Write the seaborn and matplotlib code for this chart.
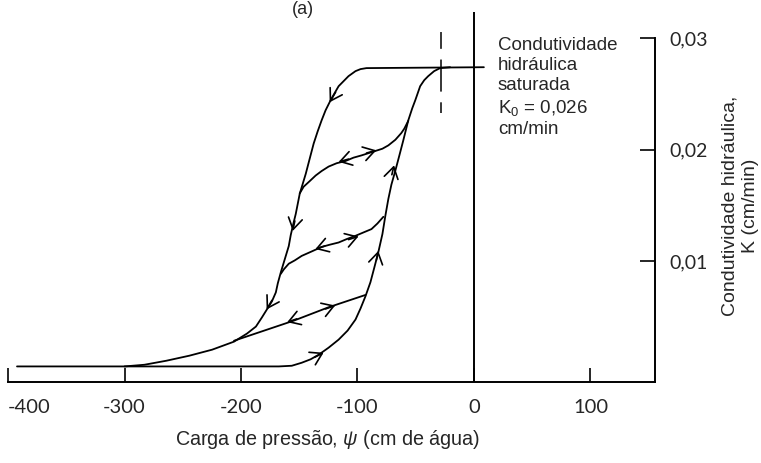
import pandas as pd
import matplotlib.pyplot as plt
import seaborn as sns

sns.set_style('white')
plt.rcParams['font.family'] = ['Liberation Sans', 'DejaVu Sans']
plt.rcParams['mathtext.fontset'] = 'custom'
plt.rcParams['mathtext.rm'] = 'Liberation Sans'
plt.rcParams['mathtext.it'] = 'Liberation Sans:italic'
plt.rcParams['axes.unicode_minus'] = False

# pressure head psi (cm de agua) and conductivity K (cm/min)
drying_psi = [8.5, -92.3, -97.4, -101.7, -107.7, -112.8, -116.2, -119.7, -123.1, -127.4, -130.8,
              -134.2, -137.6, -141.0, -144.4, -147.0, -149.6, -151.3, -153.0, -154.7, -157.3,
              -159.0, -162.4, -165.8, -168.4, -170.1, -173.5, -177.8, -182.1, -187.2, -194.9,
              -206.0, -215.4, -224.8, -244.4, -264.1, -282.9, -300.0]
drying_k = [0.0274, 0.02732, 0.02723, 0.02705, 0.0266, 0.02606, 0.0257, 0.02507, 0.02444, 0.02354, 0.02264,
            0.02165, 0.02057, 0.01922, 0.01786, 0.01696, 0.01606, 0.01516, 0.01426, 0.01354, 0.01237,
            0.01138, 0.01021, 0.00904, 0.00805, 0.00723, 0.00642, 0.0057, 0.00498, 0.00417, 0.00354,
            0.00282, 0.00246, 0.0021, 0.00156, 0.00111, 0.00075, 0.0006]

wetting_psi = [-392.3, -167.5, -156.4, -147.9, -140.2, -133.3, -124.8, -116.2, -108.5, -101.7,
               -97.4, -93.2, -88.9, -85.5, -82.1, -78.6, -76.1, -73.5, -70.9, -67.5, -64.1,
               -60.7, -56.4, -53.0, -50.4, -46.2, -42.7, -39.3, -34.2, -29.1, -20.5]
wetting_k = [0.0006, 0.0006, 0.00066, 0.00093, 0.00124, 0.00165, 0.00228, 0.003, 0.00381, 0.0048,
             0.00579, 0.00687, 0.00814, 0.00948, 0.01084, 0.01246, 0.01408, 0.01561, 0.01688, 0.01814, 0.01948,
             0.02084, 0.02264, 0.02372, 0.02444, 0.0257, 0.02624, 0.0266, 0.02705, 0.02732, 0.0274]

scan1_psi = [-56.4, -59.8, -62.4, -67.5, -73.5, -78.6, -84.6, -90.6, -96.6, -103.4, -110.3,
             -117.9, -124.8, -130.8, -135.9, -141.0, -146.2, -149.6]
scan1_k = [0.0226, 0.0219, 0.0215, 0.0209, 0.0204, 0.0201, 0.0199, 0.0197, 0.0195, 0.0193, 0.0190,
           0.0188, 0.0185, 0.0181, 0.0177, 0.0172, 0.0167, 0.0161]

scan2_psi = [-77.8, -82.9, -88.0, -94.9, -101.7, -109.4, -116.2, -123.9, -130.8, -139.3, -147.9,
             -153.8, -159.0, -163.2, -165.8]
scan2_k = [0.0140, 0.0134, 0.0129, 0.0126, 0.0123, 0.0120, 0.0117, 0.0115, 0.0113, 0.0109, 0.0105,
           0.0101, 0.0098, 0.0093, 0.0089]

scan3_psi = [-93.2, -124.8, -154.7, -206.0]
scan3_k = [0.0070, 0.0059, 0.0047, 0.0029]

# arrowheads: (tail psi, tail K, tip psi, tip K)
arrows = [
    (-118.8, 0.02516, -123.9, 0.02426),
    (-153.8, 0.01363, -155.6, 0.01273),
    (-173.5, 0.00651, -178.0, 0.00570),
    (-70.5, 0.01777, -68.6, 0.01861),
    (-83.8, 0.01012, -82.1, 0.01095),
    (-136.8, 0.00142, -129.1, 0.00183),
    (-92.3, 0.01971, -83.8, 0.01996),
    (-107.7, 0.01917, -116.2, 0.01892),
    (-107.7, 0.01196, -99.1, 0.01225),
    (-128.2, 0.01138, -136.2, 0.01111),
    (-127.4, 0.00575, -119.1, 0.00606),
    (-152.1, 0.00486, -160.4, 0.00456),
]

x_ticks = [-400, -300, -200, -100, 0, 100]
x_tick_labels = ['-400', '-300', '-200', '-100', '0', '100']
y_ticks = [0.01, 0.02, 0.03]
y_tick_labels = ['0,01', '0,02', '0,03']

k_sat_marker = -28       # dashed marker near saturation
x_axis_k = -0.0008       # level of the psi axis
k_axis_psi = 155.4       # position of the K axis

curves = []
for name, xs, ys in [('drying', drying_psi, drying_k), ('wetting', wetting_psi, wetting_k),
                     ('scan1', scan1_psi, scan1_k), ('scan2', scan2_psi, scan2_k),
                     ('scan3', scan3_psi, scan3_k)]:
    curves.append(pd.DataFrame({'curve': name, 'psi': xs, 'K': ys}))
df = pd.concat(curves, ignore_index=True)

fig = plt.figure(figsize=(7.61, 4.63), dpi=100)
ax = fig.add_axes([0, 0, 1, 1])

sns.lineplot(data=df, x='psi', y='K', units='curve', estimator=None, sort=False,
             color='black', lw=1.3, ax=ax)

for x0, y0, x1, y1 in arrows:
    ax.annotate('', xy=(x1, y1), xytext=(x0, y0),
                arrowprops=dict(arrowstyle='->,head_length=0.45,head_width=0.28',
                                lw=1.2, color='black', shrinkA=0, shrinkB=0,
                                mutation_scale=18))

ax.vlines(0, x_axis_k, 0.03234, color='black', lw=1.4)
ax.vlines(k_sat_marker, 0.0233, 0.03064, color='black', lw=1.1,
          linestyles=[(0, (7, 7, 21, 7, 11, 20))])

ax.set_xlim(-406.9, 246.4)
ax.set_ylim(-0.00805, 0.03342)
ax.set_xlabel('')
ax.set_ylabel('')

for side in ['left', 'top']:
    ax.spines[side].set_visible(False)
ax.spines['bottom'].set_position(('data', x_axis_k))
ax.spines['bottom'].set_bounds(-400, k_axis_psi)
ax.spines['right'].set_position(('data', k_axis_psi))
ax.spines['right'].set_bounds(x_axis_k, 0.03)
for side in ['bottom', 'right']:
    ax.spines[side].set_linewidth(1.4)
    ax.spines[side].set_color('black')

ax.xaxis.set_ticks_position('bottom')
ax.yaxis.set_ticks_position('right')
ax.set_xticks(x_ticks)
ax.set_xticklabels(x_tick_labels)
ax.set_yticks(y_ticks)
ax.set_yticklabels(y_tick_labels)
ax.tick_params(axis='x', direction='in', length=10, width=1.4, pad=12, labelsize=14.5)
ax.tick_params(axis='y', direction='in', length=11, width=1.4, pad=10, labelsize=14)
for lab in ax.get_xticklabels() + ax.get_yticklabels():
    lab.set_fontfamily('Lato')
ax.get_xticklabels()[0].set_ha('left')

ax.text(0.6544, 0.9201, 'Condutividade\nhidráulica\nsaturada\nK$_0$ = 0,026\ncm/min',
        transform=ax.transAxes, ha='left', va='top', fontsize=13.5, linespacing=1.25)
ax.text(0.4297, 0.0497, r'Carga de pressão, $\psi$ (cm de água)',
        transform=ax.transAxes, ha='center', va='center', fontsize=14.2)
ax.text(0.9724, 0.555, 'Condutividade hidráulica,\nK (cm/min)', rotation=90,
        transform=ax.transAxes, ha='center', va='center', multialignment='center',
        fontsize=14, linespacing=1.3)
fig.text(303 / 761, 1 - 1 / 463, '(a)', ha='center', va='top', fontsize=13)

fig.savefig('out.png', dpi=100)
